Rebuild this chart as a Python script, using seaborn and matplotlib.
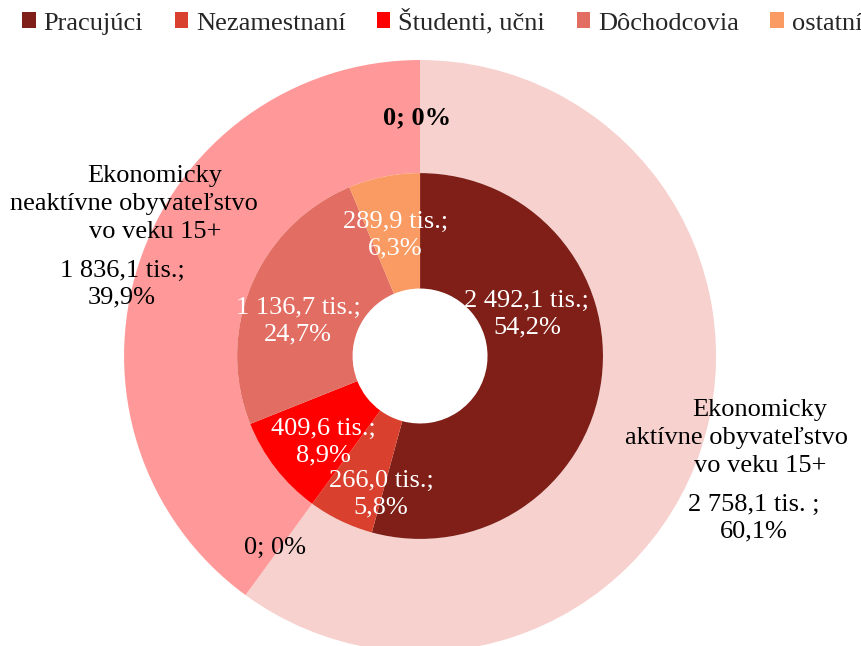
import matplotlib
matplotlib.use("Agg")
import matplotlib.pyplot as plt
import seaborn as sns
from matplotlib.patches import Patch

sns.set_theme(style="white")
plt.rcParams["font.family"] = ["Liberation Serif", "DejaVu Serif"]

# inner ring: groups of population 15+
groups = ["Pracujúci", "Nezamestnaní", "Študenti, učni", "Dôchodcovia", "ostatní"]
group_values = [2492.1, 266.0, 409.6, 1136.7, 289.9]
group_pct = ["54,2%", "5,8%", "8,9%", "24,7%", "6,3%"]
group_colors = ["#7F1F17", "#D9402E", "#FF0000", "#E26D62", "#F99B62"]

# outer ring: active / inactive (with two empty points)
status = [["Ekonomicky", "aktívne obyvateľstvo", "vo veku 15+"], None,
          ["Ekonomicky", "neaktívne obyvateľstvo", "vo veku 15+"], None]
status_values = [2758.1, 0, 1836.1, 0]
status_value_text = ["2 758,1 tis. ;\n60,1%", "0; 0%", "1 836,1 tis.;\n39,9%", "0; 0%"]
status_colors = ["#F6D1CE", "#F6D1CE", "#FF9999", "#FF9999"]


def fmt(v):
    return f"{v:,.1f}".replace(",", " ").replace(".", ",")


fig = plt.figure(figsize=(8.62, 6.46), dpi=100)
ax = fig.add_axes([0.1439, -0.0093, 0.6868, 0.9164])

ax.pie(status_values, radius=1.0, colors=status_colors, startangle=90,
       counterclock=False, wedgeprops=dict(width=0.382, linewidth=0))
ax.pie(group_values, radius=0.618, colors=group_colors, startangle=90,
       counterclock=False, wedgeprops=dict(width=0.39, linewidth=0))

fs = 19
ls = 1.27
# inner labels
inner_pos = [(0.361, 0.142), (-0.132, -0.466), (-0.328, -0.291),
             (-0.412, 0.118), (-0.084, 0.409)]
for (x, y), v, p in zip(inner_pos, group_values, group_pct):
    ax.text(x, y, f"{fmt(v)} tis.;\n{p}", color="white", fontsize=fs,
            ha="center", va="center", multialignment="center", linespacing=ls)

# outer labels: category names line by line (middle line sits a bit left)
name_pos = [(1.149, -0.277), None, (-0.895, 0.514), None]
middle_shift = [-0.081, None, -0.071, None]
pitch = 0.095
value_pos = [(1.128, -0.548), (-0.01, 0.804), (-1.007, 0.243), (-0.49, -0.649)]
for i in range(len(status_values)):
    if name_pos[i] is not None:
        x0, y0 = name_pos[i]
        for k, line in enumerate(status[i]):
            dx = middle_shift[i] if k == 1 else 0
            ax.text(x0 + dx, y0 + (1 - k) * pitch, line, fontsize=fs,
                    ha="center", va="center", color="black")
    ax.text(*value_pos[i], status_value_text[i], fontsize=fs, ha="center",
            va="center", multialignment="center", linespacing=ls, color="black",
            fontweight="bold" if i == 1 else "normal")

ax.set_xlim(-1, 1)
ax.set_ylim(-1, 1)
ax.set_aspect("equal")
ax.axis("off")

handles = [Patch(facecolor=c, edgecolor="none") for c in group_colors]
fig.legend(handles, groups, loc="center", bbox_to_anchor=(0.513, 0.966), ncol=5,
           frameon=False, fontsize=fs, handlelength=0.5, handleheight=0.55,
           handletextpad=0.3, columnspacing=1.2)

fig.savefig("out.png", dpi=100)
